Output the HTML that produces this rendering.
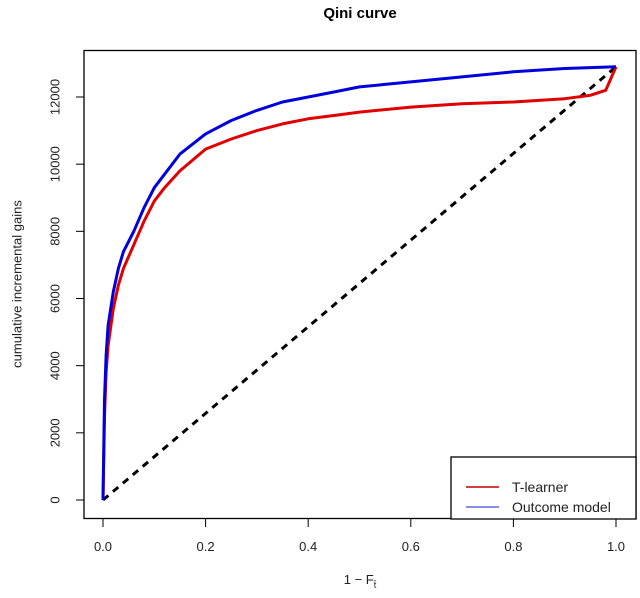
<!DOCTYPE html>
<html><head><meta charset="utf-8"><style>
body{margin:0;background:#fff}
svg{display:block;font-family:"Liberation Sans",Arial,sans-serif}
</style></head><body>
<svg id="c" width="640" height="598"></svg>
<script>
const xTicks=[0,0.2,0.4,0.6,0.8,1.0];
const xTickLabels=["0.0","0.2","0.4","0.6","0.8","1.0"];
const yTicks=[0,2000,4000,6000,8000,10000,12000];
const blueX=[0,0.003,0.006,0.01,0.02,0.03,0.04,0.06,0.08,0.1,0.12,0.15,0.2,0.25,0.3,0.35,0.4,0.45,0.5,0.6,0.7,0.8,0.9,1.0];
const blueY=[0,3000,4300,5200,6200,6900,7400,8000,8700,9300,9700,10300,10900,11300,11600,11850,12000,12150,12300,12450,12600,12750,12850,12900];
const redX=[0,0.003,0.006,0.01,0.02,0.03,0.04,0.06,0.08,0.1,0.12,0.15,0.2,0.25,0.3,0.35,0.4,0.45,0.5,0.6,0.7,0.8,0.9,0.95,0.98,1.0];
const redY=[0,2500,3800,4600,5700,6400,6900,7600,8300,8900,9300,9800,10450,10750,11000,11200,11350,11450,11550,11700,11800,11850,11950,12050,12200,12900];
const diagX=[0,1];
const diagY=[0,12900];
const NS="http://www.w3.org/2000/svg";
const svg=document.getElementById('c');
const X=v=>103+v*513;
const Y=v=>500-v*(403/12000);
function mk(t,a,p){const e=document.createElementNS(NS,t);for(const k in a)e.setAttribute(k,a[k]);(p||svg).appendChild(e);return e;}
let e;
e=mk('text',{x:360,y:18,'text-anchor':'middle','font-size':15,'font-weight':'bold'});e.textContent='Qini curve';


e=mk('rect',{x:84,y:50.5,width:552,height:468,fill:'none',stroke:'#000','stroke-width':1.3});


xTicks.forEach((t,i)=>{
 e=mk('line',{x1:X(t),x2:X(t),y1:519,y2:527,stroke:'#000'});
 
 
 e=mk('text',{x:X(t),y:551,'text-anchor':'middle','font-size':13,fill:'#222'});e.textContent=xTickLabels[i];
 
 
});
yTicks.forEach(t=>{
 e=mk('line',{x1:76,x2:84,y1:Y(t),y2:Y(t),stroke:'#000'});
 
 
 e=mk('text',{x:56,y:Y(t),'text-anchor':'middle','font-size':13,fill:'#222',transform:`rotate(-90 56 ${Y(t)})`,'dominant-baseline':'middle'});e.textContent=String(t);
 
 
});
e=mk('text',{x:18,y:284,'text-anchor':'middle','font-size':13,fill:'#222',transform:'rotate(-90 18 284)','dominant-baseline':'middle'});e.textContent='cumulative incremental gains';


e=mk('text',{x:360,y:584,'text-anchor':'middle','font-size':13,fill:'#222'});
e.innerHTML='1 \u2212 F<tspan font-size="9" dy="4">t\u0302</tspan>';


function line(xs,ys,col,name,dash){
 const d=xs.map((x,i)=>(i?'L':'M')+X(x).toFixed(1)+','+Y(ys[i]).toFixed(1)).join('');
 const p=mk('path',{d,fill:'none',stroke:col,'stroke-width':3,'stroke-linejoin':'round'});
 if(dash)p.setAttribute('stroke-dasharray',dash);
 
 
}
line(diagX,diagY,'#000','random-baseline','7,6');
line(redX,redY,'#e00000','t-learner-line');
line(blueX,blueY,'#0000dd','outcome-model-line');
const lg=mk('g',{});


mk('rect',{x:451,y:457,width:185,height:62,fill:'#fff',stroke:'#000','stroke-width':1.3},lg);
mk('line',{x1:466,x2:499,y1:487,y2:487,stroke:'#c00000','stroke-width':1.5},lg);
mk('line',{x1:466,x2:499,y1:507,y2:507,stroke:'#6666dd','stroke-width':1.5},lg);
e=mk('text',{x:512,y:492,'font-size':14,fill:'#222'},lg);e.textContent='T-learner';


e=mk('text',{x:512,y:512,'font-size':14,fill:'#222'},lg);e.textContent='Outcome model';


</script>
</body></html>
